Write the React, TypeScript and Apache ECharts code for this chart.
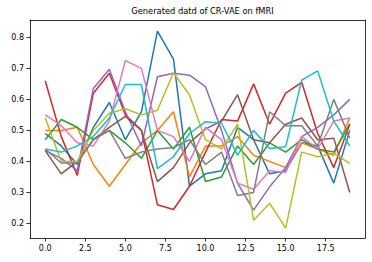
import React, { useEffect, useRef } from "react";
import * as echarts from "echarts";

const title = "Generated datd of CR-VAE on fMRI";
const xTicks = [0, 2.5, 5, 7.5, 10, 12.5, 15, 17.5];
const yTicks = [0.2, 0.3, 0.4, 0.5, 0.6, 0.7, 0.8];
const steps = [0, 1, 2, 3, 4, 5, 6, 7, 8, 9, 10, 11, 12, 13, 14, 15, 16, 17, 18, 19];

const s0 = [0.49, 0.45, 0.39, 0.51, 0.59, 0.47, 0.56, 0.82, 0.73, 0.32, 0.36, 0.37, 0.51, 0.47, 0.36, 0.37, 0.46, 0.45, 0.33, 0.50];
const s1 = [0.50, 0.50, 0.51, 0.39, 0.32, 0.39, 0.46, 0.50, 0.56, 0.35, 0.45, 0.45, 0.48, 0.42, 0.40, 0.38, 0.46, 0.44, 0.42, 0.54];
const s2 = [0.47, 0.535, 0.51, 0.47, 0.50, 0.46, 0.41, 0.50, 0.44, 0.51, 0.335, 0.35, 0.45, 0.39, 0.46, 0.43, 0.47, 0.44, 0.43, 0.52];
const s3 = [0.66, 0.48, 0.355, 0.62, 0.684, 0.55, 0.50, 0.26, 0.245, 0.32, 0.43, 0.535, 0.53, 0.65, 0.52, 0.62, 0.655, 0.49, 0.38, 0.52];
const s4 = [0.435, 0.41, 0.37, 0.635, 0.697, 0.56, 0.45, 0.673, 0.684, 0.678, 0.641, 0.50, 0.33, 0.243, 0.318, 0.38, 0.48, 0.51, 0.55, 0.60];
const s5 = [0.435, 0.36, 0.40, 0.47, 0.51, 0.545, 0.50, 0.335, 0.38, 0.46, 0.505, 0.53, 0.615, 0.47, 0.46, 0.52, 0.54, 0.47, 0.475, 0.30];
const s6 = [0.55, 0.515, 0.46, 0.45, 0.53, 0.725, 0.70, 0.50, 0.48, 0.40, 0.51, 0.47, 0.33, 0.31, 0.37, 0.365, 0.48, 0.44, 0.53, 0.54];
const s7 = [0.44, 0.395, 0.395, 0.47, 0.50, 0.41, 0.43, 0.44, 0.445, 0.47, 0.39, 0.43, 0.29, 0.30, 0.56, 0.515, 0.515, 0.45, 0.60, 0.475];
const s8 = [0.54, 0.40, 0.40, 0.50, 0.555, 0.57, 0.55, 0.565, 0.686, 0.614, 0.47, 0.44, 0.52, 0.21, 0.265, 0.185, 0.43, 0.415, 0.426, 0.394];
const s9 = [0.44, 0.43, 0.45, 0.48, 0.54, 0.648, 0.648, 0.377, 0.415, 0.49, 0.528, 0.523, 0.42, 0.50, 0.442, 0.447, 0.662, 0.692, 0.53, 0.45];

const seriesValues = [s0, s1, s2, s3, s4, s5, s6, s7, s8, s9];
const colors = ["#1f77b4", "#ff7f0e", "#2ca02c", "#d62728", "#9467bd", "#8c564b", "#e377c2", "#7f7f7f", "#bcbd22", "#17becf"];

export default function App() {
  const ref = useRef<HTMLDivElement>(null);
  useEffect(() => {
    document.body.style.margin = "0";
    const chart = echarts.init(ref.current!, null, { renderer: "svg" });
    const font = "DejaVu Sans";
    const spine = { show: true, onZero: false, lineStyle: { color: "#000", width: 0.8 } };
    const labelBase = {
      formatter: (v: number) => v.toFixed(1),
      fontFamily: font,
      fontSize: 8,
      color: "#000",
      margin: 6,
    };
    chart.setOption({
      animation: false,
      backgroundColor: "#ffffff",
      title: {
        text: title,
        left: 197.5,
        textAlign: "center",
        top: 2,
        textStyle: { fontFamily: font, fontSize: 8.3, fontWeight: "normal", color: "#000" },
      },
      grid: {
        left: 30,
        top: 20,
        width: 335,
        height: 218,
        show: false,
      },
      xAxis: [
        {
          type: "value",
          min: -0.95,
          max: 19.95,
          position: "bottom",
          splitLine: { show: false },
          axisLine: spine,
          axisTick: { show: true, inside: false, length: 3.5, customValues: xTicks, lineStyle: { color: "#000", width: 0.8 } },
          axisLabel: { ...labelBase, customValues: xTicks },
        },
        {
          type: "value",
          min: -0.95,
          max: 19.95,
          position: "top",
          splitLine: { show: false },
          axisLine: spine,
          axisTick: { show: false },
          axisLabel: { show: false },
        },
      ],
      yAxis: [
        {
          type: "value",
          min: 0.153,
          max: 0.856,
          position: "left",
          splitLine: { show: false },
          axisLine: spine,
          axisTick: { show: true, inside: false, length: 3.5, customValues: yTicks, lineStyle: { color: "#000", width: 0.8 } },
          axisLabel: { ...labelBase, customValues: yTicks },
        },
        {
          type: "value",
          min: 0.153,
          max: 0.856,
          position: "right",
          splitLine: { show: false },
          axisLine: spine,
          axisTick: { show: false },
          axisLabel: { show: false },
        },
      ],
      series: seriesValues.map((vals, k) => ({
        type: "line",
        xAxisIndex: 0,
        yAxisIndex: 0,
        data: steps.map((x, i) => [x, vals[i]]),
        showSymbol: false,
        symbol: "none",
        lineStyle: { color: colors[k], width: 1.5 },
        itemStyle: { color: colors[k] },
        z: 2 + k,
      })),
    });
    return () => chart.dispose();
  }, []);
  return <div ref={ref} style={{ width: 372, height: 262 }} />;
}
